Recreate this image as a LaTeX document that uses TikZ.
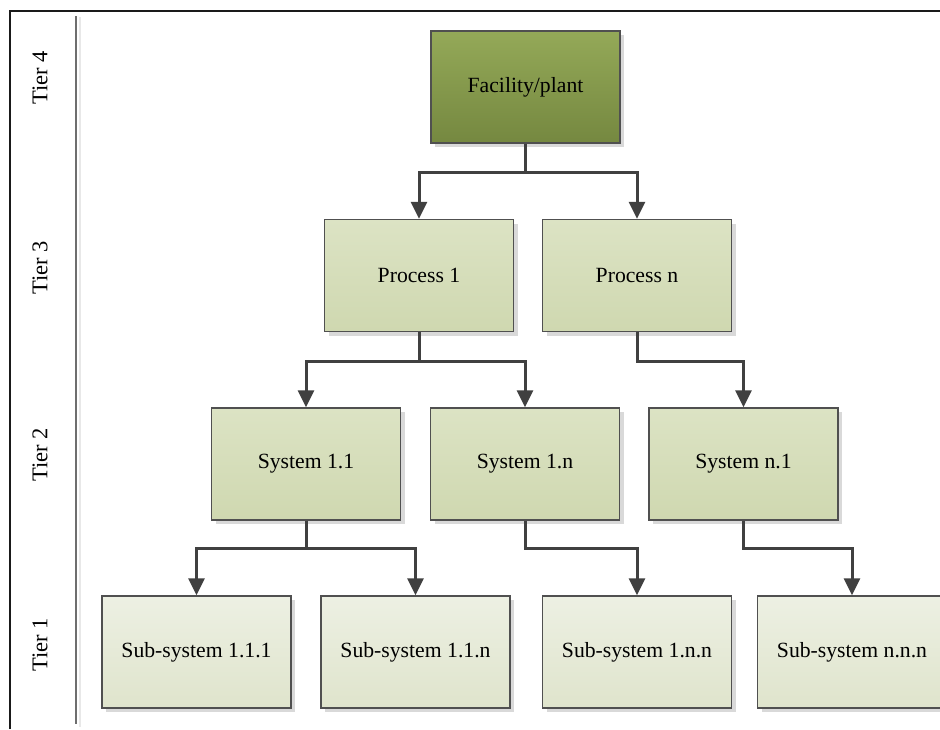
\documentclass[tikz,border=0pt]{standalone}
\usepackage{fontspec}
\setmainfont{Liberation Serif}
\usetikzlibrary{arrows.meta,shadows}
\definecolor{frameline}{HTML}{1A1A1A}
\definecolor{divline}{HTML}{6E6E6E}
\definecolor{boxedge}{HTML}{505050}
\definecolor{connline}{HTML}{404040}
\definecolor{shadowgray}{HTML}{D9D9D9}
\definecolor{darktop}{HTML}{94A958}
\definecolor{darkbot}{HTML}{758840}
\definecolor{midtop}{HTML}{DCE3C4}
\definecolor{midbot}{HTML}{CFD8B0}
\definecolor{lighttop}{HTML}{EDF0E3}
\definecolor{lightbot}{HTML}{DFE4CC}
\tikzset{
  unitbox/.style={draw=boxedge, line width=1.3pt, minimum width=189pt, minimum height=112pt,
    inner sep=0pt, font=\fontsize{21.7}{26}\selectfont,
    drop shadow={shadow xshift=4pt, shadow yshift=-4pt, fill=shadowgray, opacity=1}},
  tierfour/.style={unitbox, top color=darktop, bottom color=darkbot},
  tierthree/.style={unitbox, top color=midtop, bottom color=midbot},
  tiertwo/.style={unitbox, top color=midtop, bottom color=midbot},
  tierone/.style={unitbox, top color=lighttop, bottom color=lightbot},
  conn/.style={draw=connline, line width=3pt,
    -{Triangle[length=17pt,width=16pt]}},
  tierlabel/.style={rotate=90, font=\fontsize{22.5}{26}\selectfont, inner sep=0pt}
}
\begin{document}
\begin{tikzpicture}[x=1pt,y=-1pt]
\useasboundingbox (0,0) rectangle (940,729);
\clip (0,0) rectangle (940,729);
\fill[white] (0,0) rectangle (940,729);

% outer frame and tier column divider
\draw[frameline, line width=2pt] (10,729) -- (10,11) -- (942,11);
\draw[shadowgray!60, line width=2pt] (80,17) -- (80,727);
\draw[divline, line width=1.6pt] (76,16) -- (76,724);

% tier captions
\node[tierlabel] (t4) at (40,78) {Tier 4};
\node[tierlabel] (t3) at (40,268) {Tier 3};
\node[tierlabel] (t2) at (40,455) {Tier 2};
\node[tierlabel] (t1) at (40,645) {Tier 1};

% tier 4
\node[tierfour] (fac) at (525.5,87) {Facility/plant};
% tier 3
\node[tierthree] (p1) at (419,275.5) {Process 1};
\node[tierthree] (pn) at (637,275.5) {Process n};
% tier 2
\node[tiertwo] (s11) at (306,464) {System 1.1};
\node[tiertwo] (s1n) at (525,464) {System 1.n};
\node[tiertwo] (sn1) at (743.5,464) {System n.1};
% tier 1
\node[tierone] (u111) at (196.5,652) {Sub-system 1.1.1};
\node[tierone] (u11n) at (415.5,652) {Sub-system 1.1.n};
\node[tierone] (u1nn) at (637,652) {Sub-system 1.n.n};
\node[tierone] (unnn) at (852,652) {Sub-system n.n.n};

% connectors
\draw[conn] (fac.south) -- ++(0,29) -| (p1.north);
\draw[conn] (fac.south) -- ++(0,29) -| (pn.north);
\draw[conn] (p1.south) -- ++(0,29) -| (s11.north);
\draw[conn] (p1.south) -- ++(0,29) -| (s1n.north);
\draw[conn] (pn.south) -- ++(0,29) -| (sn1.north);
\draw[conn] (s11.south) -- ++(0,28) -| (u111.north);
\draw[conn] (s11.south) -- ++(0,28) -| (u11n.north);
\draw[conn] (s1n.south) -- ++(0,28) -| (u1nn.north);
\draw[conn] (sn1.south) -- ++(0,28) -| (unnn.north);
\end{tikzpicture}
\end{document}
